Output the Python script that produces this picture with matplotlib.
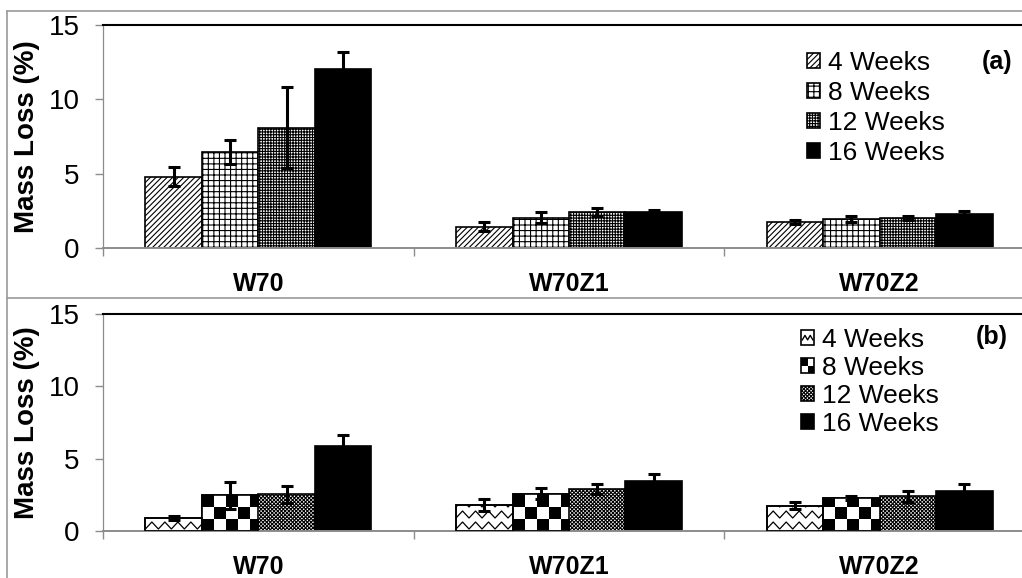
import numpy as np
import matplotlib
matplotlib.use('Agg')
import matplotlib.pyplot as plt
from matplotlib.lines import Line2D
from matplotlib.patches import Rectangle
from matplotlib.legend_handler import HandlerBase

plt.rcParams['font.family'] = ['Liberation Sans', 'DejaVu Sans']
plt.rcParams['hatch.linewidth'] = 0.8

# data
cats = ['W70', 'W70Z1', 'W70Z2']
weeks = ['4 Weeks', '8 Weeks', '12 Weeks', '16 Weeks']

# panel (a)
a_4wk = [4.80, 1.43, 1.73]
a_8wk = [6.46, 2.04, 1.97]
a_12wk = [8.09, 2.42, 2.02]
a_16wk = [12.02, 2.40, 2.29]
a_4wk_err = [0.65, 0.32, 0.13]
a_8wk_err = [0.80, 0.36, 0.20]
a_12wk_err = [2.74, 0.25, 0.15]
a_16wk_err = [1.16, 0.16, 0.22]

# panel (b)
b_4wk = [0.90, 1.80, 1.75]
b_8wk = [2.46, 2.58, 2.28]
b_12wk = [2.53, 2.92, 2.40]
b_16wk = [5.85, 3.43, 2.76]
b_4wk_err = [0.12, 0.40, 0.25]
b_8wk_err = [0.92, 0.40, 0.15]
b_12wk_err = [0.60, 0.35, 0.39]
b_16wk_err = [0.80, 0.53, 0.50]

a_means = [a_4wk, a_8wk, a_12wk, a_16wk]
a_errs = [a_4wk_err, a_8wk_err, a_12wk_err, a_16wk_err]
b_means = [b_4wk, b_8wk, b_12wk, b_16wk]
b_errs = [b_4wk_err, b_8wk_err, b_12wk_err, b_16wk_err]

W, H = 1022, 578
fig = plt.figure(figsize=(W / 100, H / 100), dpi=100)
ax_a = fig.add_axes([103 / W, 1 - 248 / H, 932 / W, 223 / H])
ax_b = fig.add_axes([103 / W, 1 - 531 / H, 932 / W, 217 / H])

gray = '#8c8c8c'
bw = 1 / 5.5  # excel gap width 150%


def style_axes(ax):
    ax.set_xlim(-0.5, 2.5)
    ax.set_ylim(0, 15)
    ax.set_yticks([0, 5, 10, 15])
    ax.tick_params(axis='y', direction='out', length=6, width=1, color=gray, pad=11, labelsize=20)
    ax.set_xticks(range(len(cats)))
    ax.set_xticklabels(cats, fontweight='bold', fontsize=18)
    ax.tick_params(axis='x', which='major', length=0, pad=17)
    ax.set_xticks([-0.5, 0.5, 1.5, 2.5], minor=True)
    ax.tick_params(axis='x', which='minor', direction='out', length=6, width=1, color=gray)
    ax.spines['left'].set_color(gray)
    ax.spines['left'].set_linewidth(0.9)
    ax.spines['bottom'].set_color(gray)
    ax.spines['bottom'].set_linewidth(1.4)
    ax.spines['top'].set_color('black')
    ax.spines['top'].set_linewidth(1.5)
    ax.spines['right'].set_visible(False)
    ax.set_ylabel('Mass Loss (%)', fontweight='bold', fontsize=20)
    ax.yaxis.set_label_coords(-0.068, 0.5)


def px_scale(ax):
    o = ax.transData.transform((0, 0))
    p = ax.transData.transform((1, 1))
    return p[0] - o[0], p[1] - o[1]


def add_zigzag(ax, bar):
    sx, sy = px_scale(ax)
    x0, w, h = bar.get_x(), bar.get_width(), bar.get_height()
    period, amp, gap = 13 / sx, 3.5 / sy, 11 / sy
    xs = np.arange(x0 - period, x0 + w + period, period / 2)
    offs = np.where(np.arange(len(xs)) % 2 == 0, -amp, amp)
    for base in np.arange(gap * 0.5, h + gap, gap):
        ln = Line2D(xs, base + offs, color='black', lw=0.9, zorder=2.5)
        ax.add_line(ln)
        ln.set_clip_path(bar)


def add_checker(ax, bar, sq=12):
    sx, sy = px_scale(ax)
    x0, w, h = bar.get_x(), bar.get_width(), bar.get_height()
    nx = int(np.ceil(w * sx / sq))
    ny = int(np.ceil(h * sy / sq))
    arr = np.add.outer(np.arange(ny), np.arange(nx)) % 2
    im = ax.imshow(arr, cmap='gray', vmin=0, vmax=1, origin='lower', interpolation='nearest',
                   extent=(x0, x0 + nx * sq / sx, 0, ny * sq / sy), aspect='auto', zorder=2.5)
    im.set_clip_path(bar)


class ZigzagHandle:
    pass


class CheckerHandle:
    pass


class HandlerZigzag(HandlerBase):
    def create_artists(self, legend, orig_handle, xdescent, ydescent, width, height, fontsize, trans):
        x0, y0 = -xdescent, -ydescent
        box = Rectangle((x0, y0), width, height, fc='white', ec='black', lw=1.2, transform=trans)
        xs = x0 + width * np.array([0.1, 0.3, 0.5, 0.7, 0.9])
        ys = y0 + height * np.array([0.35, 0.65, 0.35, 0.65, 0.35])
        ln = Line2D(xs, ys, color='black', lw=1.0, transform=trans)
        return [box, ln]


class HandlerChecker(HandlerBase):
    def create_artists(self, legend, orig_handle, xdescent, ydescent, width, height, fontsize, trans):
        x0, y0 = -xdescent, -ydescent
        box = Rectangle((x0, y0), width, height, fc='white', ec='black', lw=1.2, transform=trans)
        q1 = Rectangle((x0, y0 + height / 2), width / 2, height / 2, fc='black', ec='none', transform=trans)
        q2 = Rectangle((x0 + width / 2, y0), width / 2, height / 2, fc='black', ec='none', transform=trans)
        return [box, q1, q2]


x = np.arange(len(cats))
err_kw = dict(fmt='none', ecolor='black', elinewidth=2.2, capsize=4.5, capthick=2.2, zorder=4)

# ---- panel (a)
style_axes(ax_a)
a_hatch = ['//////', '+++', '++++++', None]
a_handles = []
for i in range(4):
    xs = x + (i - 1.5) * bw
    fc = 'black' if i == 3 else 'white'
    bars = ax_a.bar(xs, a_means[i], width=bw, color=fc, edgecolor='black', linewidth=1.2,
                    hatch=a_hatch[i], zorder=2)
    ax_a.errorbar(xs, a_means[i], yerr=a_errs[i], **err_kw)
    a_handles.append(bars)
ax_a.legend(a_handles, weeks, loc='upper left', bbox_to_anchor=(807 / W, 1 - 51 / H),
            bbox_transform=fig.transFigure, frameon=False, fontsize=19, borderpad=0,
            borderaxespad=0, handlelength=0.5, handleheight=0.5, handletextpad=0.3,
            labelspacing=0.23)
fig.text(997 / W, 1 - 62 / H, '(a)', fontsize=18, fontweight='bold', ha='center', va='center')

# ---- panel (b)
style_axes(ax_b)
b_handles = []
for i in range(4):
    xs = x + (i - 1.5) * bw
    fc = 'black' if i == 3 else 'white'
    hatch = 'xxxxxxxxx' if i == 2 else None
    bars = ax_b.bar(xs, b_means[i], width=bw, color=fc, edgecolor='black', linewidth=1.2,
                    hatch=hatch, zorder=2)
    if i == 0:
        for b in bars:
            add_zigzag(ax_b, b)
    if i == 1:
        for b in bars:
            add_checker(ax_b, b)
    if i in (0, 1):
        ax_b.bar(xs, b_means[i], width=bw, fill=False, edgecolor='black', linewidth=1.2, zorder=3)
    ax_b.errorbar(xs, b_means[i], yerr=b_errs[i], **err_kw)
    b_handles.append(bars)
ax_b.set_xlim(-0.5, 2.5)
ax_b.set_ylim(0, 15)
b_handles[0] = ZigzagHandle()
b_handles[1] = CheckerHandle()
ax_b.legend(b_handles, weeks, loc='upper left', bbox_to_anchor=(801 / W, 1 - 328 / H),
            bbox_transform=fig.transFigure, frameon=False, fontsize=19, borderpad=0,
            borderaxespad=0, handlelength=0.5, handleheight=0.5, handletextpad=0.3,
            labelspacing=0.15,
            handler_map={ZigzagHandle: HandlerZigzag(), CheckerHandle: HandlerChecker()})
fig.text(992 / W, 1 - 337 / H, '(b)', fontsize=18, fontweight='bold', ha='center', va='center')

# chart frame lines
frame_kw = dict(transform=fig.transFigure, color='#9a9a9a', lw=1.2)
fig.add_artist(Line2D([7 / W, 1], [1 - 11 / H, 1 - 11 / H], **frame_kw))
fig.add_artist(Line2D([7 / W, 1], [1 - 298 / H, 1 - 298 / H], **frame_kw))
fig.add_artist(Line2D([7 / W, 7 / W], [0, 1 - 11 / H], **frame_kw))

fig.savefig('out.png', dpi=100)
